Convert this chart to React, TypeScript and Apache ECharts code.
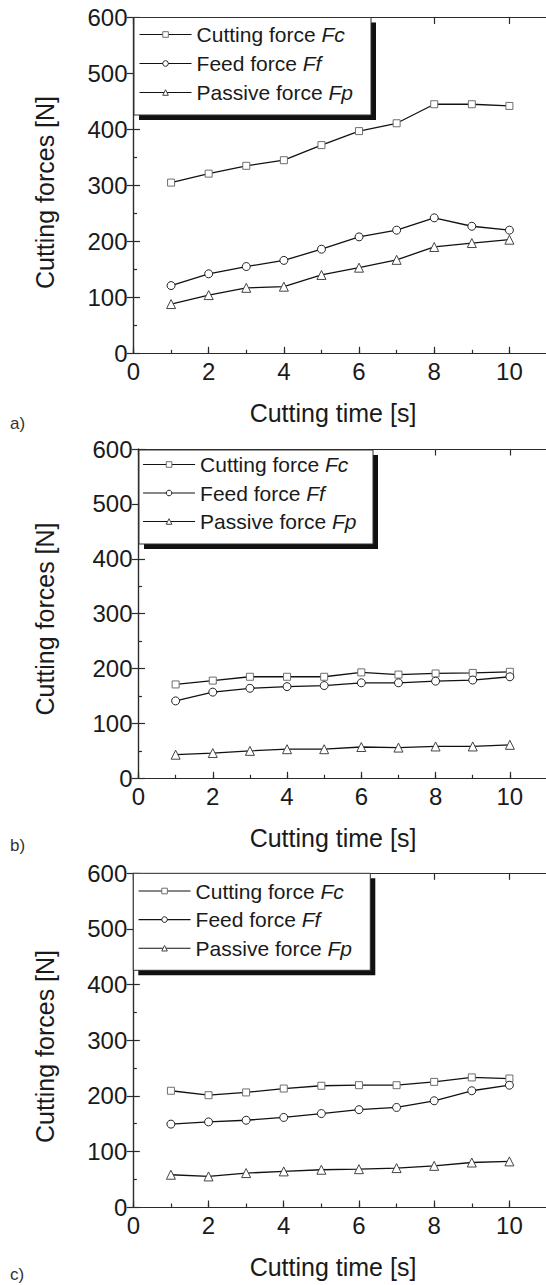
import { useEffect, useRef } from "react";
import * as echarts from "echarts";

// ---------- data ----------
const cuttingTime = [1, 2, 3, 4, 5, 6, 7, 8, 9, 10];
const seriesNames = ["Cutting force Fc", "Feed force Ff", "Passive force Fp"];
const panelLabels = ["a)", "b)", "c)"];
const xTickLabels = [0, 2, 4, 6, 8, 10];
const yTickLabels = [0, 100, 200, 300, 400, 500, 600];
const xAxisTitle = "Cutting time [s]";
const yAxisTitle = "Cutting forces [N]";

const fcA = [305, 321, 335, 345, 372, 397, 411, 445, 445, 442];
const ffA = [121, 142, 155, 166, 186, 208, 220, 242, 227, 220];
const fpA = [88, 104, 117, 119, 140, 153, 167, 190, 197, 203];

const fcB = [171, 178, 185, 185, 185, 193, 189, 191, 192, 194];
const ffB = [141, 157, 164, 167, 169, 174, 174, 177, 179, 185];
const fpB = [43, 46, 50, 53, 53, 57, 56, 58, 58, 61];

const fcC = [209, 201, 206, 213, 218, 219, 219, 225, 233, 231];
const ffC = [149, 153, 156, 161, 168, 175, 179, 191, 209, 219];
const fpC = [58, 55, 61, 64, 67, 68, 70, 74, 80, 82];

const panelData = [
  [fcA, ffA, fpA],
  [fcB, ffB, fpB],
  [fcC, ffC, fpC],
];

// ---------- layout / style ----------
const FONT = "'Liberation Sans', Arial, Helvetica, sans-serif";
const INK = "#1a1a1a";
const AXIS = "#2b2b2b";

const layout = [
  { left: 133.5, top: 17.5, width: 413.5, height: 335.8, box: [134, 17.5, 237, 97.5], legLeft: 139, legTop: 24, gap: 8, label: 423, yTitle: 192.5 },
  { left: 138.5, top: 449, width: 408.5, height: 329.3, box: [139, 450, 234, 94], legLeft: 142.5, legTop: 454, gap: 7.5, label: 845, yTitle: 619 },
  { left: 133.3, top: 873.3, width: 413.7, height: 333.7, box: [133.3, 873.3, 237, 97], legLeft: 138, legTop: 880.5, gap: 7.6, label: 1274, yTitle: 1046.5 },
];

const symbols = [
  { symbol: "rect", size: 7, border: "#6e6e6e" },
  { symbol: "circle", size: 8, border: "#222" },
  { symbol: "triangle", size: 9, border: "#444" },
];

function buildOption() {
  const grid: any[] = [];
  const xAxis: any[] = [];
  const yAxis: any[] = [];
  const series: any[] = [];
  const legend: any[] = [];
  const graphic: any[] = [];

  layout.forEach((L, p) => {
    const g = { left: L.left, top: L.top, width: L.width, height: L.height, containLabel: false, outerBoundsMode: "none" };
    grid.push({ ...g }, { ...g });
    const gMain = 2 * p;
    const gAux = 2 * p + 1;
    const lineStyle = { color: AXIS, width: 1.2 };

    // bottom major x axis with labels
    xAxis.push({
      type: "value", gridIndex: gMain, position: "bottom", min: 0, max: 11, interval: 2,
      axisLine: { show: true, lineStyle },
      axisTick: { show: true, inside: true, length: 6.5, lineStyle },
      minorTick: { show: false },
      splitLine: { show: false },
      axisLabel: {
        show: true, margin: 6.5, color: INK, fontFamily: FONT, fontSize: 24, showMaxLabel: false,
        formatter: (v: number) => (xTickLabels.includes(v) ? String(v) : ""),
      },
    });
    // bottom minor ticks (every 1 s)
    xAxis.push({
      type: "value", gridIndex: gAux, position: "bottom", min: 0, max: 11, interval: 1,
      axisLine: { show: false },
      axisTick: { show: true, inside: true, length: 3.5, lineStyle },
      splitLine: { show: false },
      axisLabel: { show: false },
    });
    // top mirror axis
    xAxis.push({
      type: "value", gridIndex: gAux, position: "top", min: 0, max: 11, interval: 2,
      axisLine: { show: true, lineStyle },
      axisTick: { show: true, inside: true, length: 6.5, lineStyle },
      splitLine: { show: false },
      axisLabel: { show: false },
    });
    // left y axis
    yAxis.push({
      type: "value", gridIndex: gMain, position: "left", min: 0, max: 600, interval: 100,
      axisLine: { show: true, lineStyle },
      axisTick: { show: true, inside: true, length: 6.5, lineStyle },
      minorTick: { show: true, splitNumber: 2, length: 3.5, lineStyle },
      splitLine: { show: false },
      axisLabel: {
        show: true, margin: 6, color: INK, fontFamily: FONT, fontSize: 24,
        formatter: (v: number) => (yTickLabels.includes(v) ? String(v) : ""),
      },
    });
    // right mirror y axis
    yAxis.push({
      type: "value", gridIndex: gAux, position: "right", min: 0, max: 600, interval: 100,
      axisLine: { show: true, lineStyle },
      axisTick: { show: true, inside: true, length: 6.5, lineStyle },
      splitLine: { show: false },
      axisLabel: { show: false },
    });

    panelData[p].forEach((vals, s) => {
      series.push({
        name: seriesNames[s],
        type: "line",
        xAxisIndex: 3 * p,
        yAxisIndex: 2 * p,
        data: cuttingTime.map((t, i) => [t, vals[i]]),
        symbol: symbols[s].symbol,
        symbolSize: symbols[s].size,
        showAllSymbol: true,
        lineStyle: { color: "#111", width: 1.3 },
        itemStyle: { color: "#ffffff", borderColor: symbols[s].border, borderWidth: 1 },
        emphasis: { disabled: true },
        z: 3,
      });
    });

    legend.push({
      show: true,
      orient: "vertical",
      left: L.legLeft,
      top: L.legTop,
      padding: 0,
      itemGap: L.gap,
      itemWidth: 52,
      itemHeight: 7,
      selectedMode: false,
      data: seriesNames.map((n, s) => ({
        name: n,
        itemStyle: { color: "#ffffff", borderColor: symbols[s].border, borderWidth: 1 },
        lineStyle: { color: "#111", width: 1.1 },
      })),
      formatter: (name: string) => {
        const k = name.lastIndexOf(" ");
        return `{n|${name.slice(0, k + 1)}}{i|${name.slice(k + 1)}}`;
      },
      textStyle: {
        color: INK,
        fontFamily: FONT,
        fontSize: 21,
        rich: {
          n: { fontFamily: FONT, fontSize: 21, color: INK, lineHeight: 22 },
          i: { fontFamily: FONT, fontSize: 21, color: INK, fontStyle: "italic", lineHeight: 22 },
        },
      },
      z: 10,
    });

    const [bx, by, bw, bh] = L.box;
    graphic.push(
      { type: "rect", z: 5, shape: { x: bx + 5, y: by + 5, width: bw, height: bh }, style: { fill: "#111" }, silent: true },
      { type: "rect", z: 6, shape: { x: bx, y: by, width: bw, height: bh }, style: { fill: "#fff", stroke: "#333", lineWidth: 1 }, silent: true },
      {
        type: "text", z: 6, x: 333, y: L.top + L.height + 60,
        style: { text: xAxisTitle, font: `25px ${FONT}`, fill: INK, textAlign: "center", textVerticalAlign: "middle" },
        silent: true,
      },
      {
        type: "text", z: 6, x: 45, y: L.yTitle, rotation: Math.PI / 2,
        style: { text: yAxisTitle, font: `25px ${FONT}`, fill: INK, textAlign: "center", textVerticalAlign: "middle" },
        silent: true,
      },
      {
        type: "text", z: 6, x: 10, y: L.label,
        style: { text: panelLabels[p], font: `17px ${FONT}`, fill: "#333", textAlign: "left", textVerticalAlign: "middle" },
        silent: true,
      }
    );
  });

  return {
    animation: false,
    backgroundColor: "#ffffff",
    grid,
    xAxis,
    yAxis,
    series,
    legend,
    graphic: { elements: graphic },
    tooltip: { show: false },
  };
}

export default function App() {
  const ref = useRef<HTMLDivElement>(null);
  useEffect(() => {
    if (!ref.current) return;
    const chart = echarts.init(ref.current, null, { renderer: "svg", width: 546, height: 1285 });
    chart.setOption(buildOption() as any);
    return () => chart.dispose();
  }, []);
  return (
    <div
      ref={ref}
      style={{ position: "absolute", left: 0, top: 0, width: 546, height: 1285, background: "#fff", overflow: "hidden" }}
    />
  );
}
